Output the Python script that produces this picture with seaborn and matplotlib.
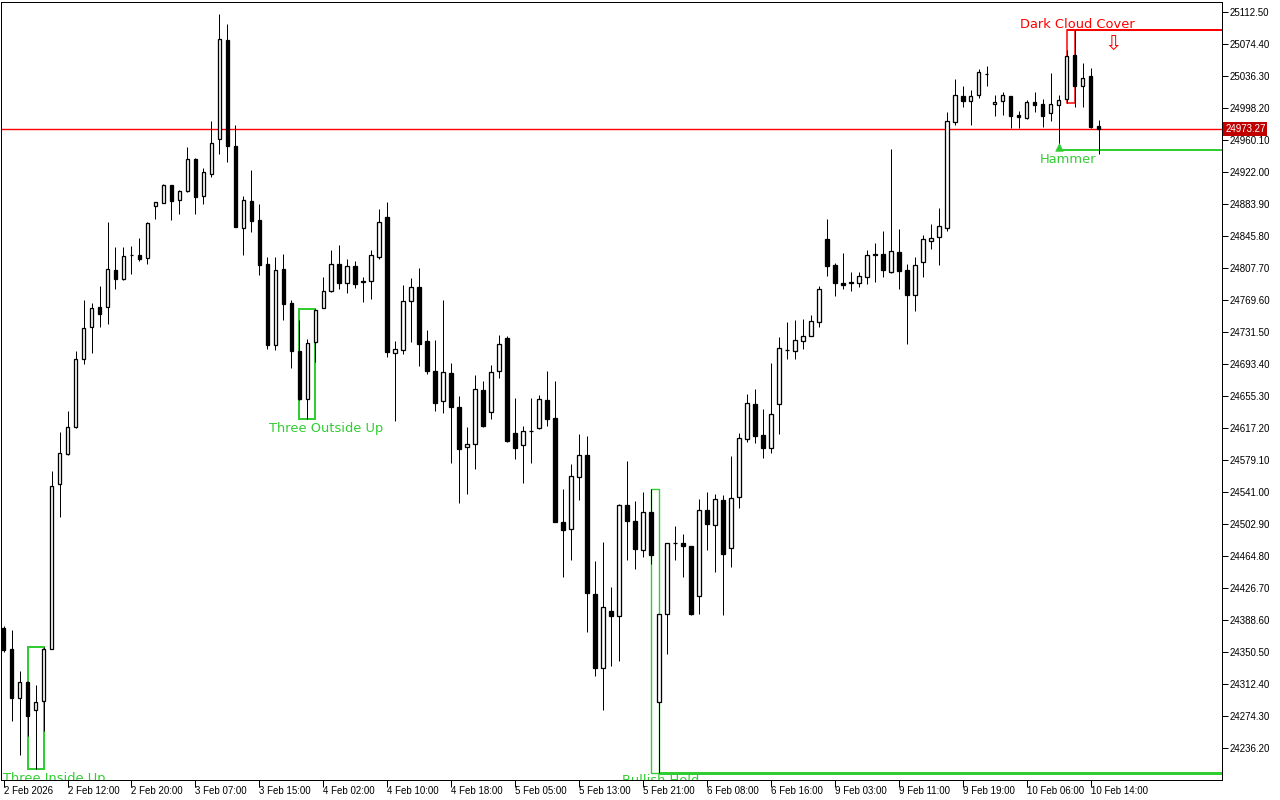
import numpy as np
import pandas as pd
import matplotlib
matplotlib.use("Agg")
import matplotlib.pyplot as plt
import matplotlib.transforms as mtransforms
from matplotlib.patches import Rectangle
import seaborn as sns

# ---------------- data (hourly candles) ----------------
opens = [24379.3, 24354.3, 24295.2, 24314.5, 24280.9, 24292.1, 24354.3, 24550.1, 24585.9, 24618.5,
         24698.8, 24737.2, 24761.0, 24761.0, 24805.8, 24794.6, 24823.0, 24822.8, 24820.0, 24881.9,
         24884.8, 24906.2, 24888.3, 24899.0, 24937.1, 24893.1, 24919.3, 24960.9, 25078.8, 24953.0,
         24855.7, 24887.1, 24864.9, 24812.5, 24716.4, 24806.5, 24766.0, 24708.9, 24651.4, 24719.3,
         24759.7, 24780.0, 24812.5, 24790.2, 24809.7, 24791.5, 24791.9, 24821.2, 24868.4, 24706.9,
         24710.4, 24768.8, 24785.1, 24720.8, 24685.1, 24649.7, 24682.7, 24641.9, 24594.2, 24597.8,
         24662.1, 24635.9, 24684.7, 24724.4, 24610.9, 24596.6, 24613.3, 24617.6, 24650.2, 24628.8,
         24505.3, 24496.6, 24558.5, 24584.7, 24419.2, 24331.8, 24399.7, 24393.7, 24525.2, 24506.1,
         24471.6, 24516.8, 24291.4, 24395.4, 24479.9, 24479.9, 24476.4, 24417.6, 24519.2, 24501.4,
         24531.5, 24474.0, 24534.7, 24603.8, 24645.4, 24608.5, 24593.1, 24645.4, 24709.8, 24708.5,
         24720.4, 24726.4, 24743.1, 24841.9, 24810.9, 24789.9, 24790.4, 24789.5, 24796.6, 24823.2,
         24824.0, 24803.3, 24826.4, 24805.0, 24775.9, 24814.5, 24840.2, 24844.3, 24855.0, 24981.2,
         25012.1, 25006.9, 25013.3, 25038.5, 25002.6, 25006.0, 25012.1, 24989.5, 24986.0, 25005.0,
         25003.0, 24991.9, 25001.8, 25008.6, 25061.3, 25024.8, 25036.0, 24976.4]
highs = [24381.5, 24376.7, 24327.9, 24316.0, 24310.9, 24357.0, 24566.2, 24611.9, 24637.5, 24709.0,
         24769.6, 24765.9, 24786.1, 24862.7, 24832.7, 24832.7, 24833.9, 24843.4, 24862.1, 24886.5,
         24907.7, 24906.8, 24900.6, 24951.8, 24938.7, 24926.8, 24982.7, 25110.1, 25098.2, 24977.6,
         24893.4, 24924.4, 24883.9, 24820.5, 24820.5, 24824.4, 24769.6, 24745.8, 24722.8, 24758.9,
         24796.6, 24829.1, 24835.1, 24818.4, 24816.4, 24796.6, 24828.8, 24878.0, 24886.3, 24720.8,
         24787.5, 24795.8, 24807.7, 24733.9, 24722.0, 24769.6, 24694.6, 24655.3, 24618.4, 24680.3,
         24673.2, 24692.2, 24727.9, 24726.8, 24652.9, 24619.3, 24652.9, 24656.5, 24685.1, 24673.2,
         24544.6, 24574.4, 24610.1, 24607.7, 24458.9, 24481.5, 24427.9, 24527.1, 24577.9, 24530.3,
         24541.0, 24544.6, 24395.9, 24480.3, 24500.5, 24491.0, 24476.8, 24532.3, 24541.0, 24538.6,
         24537.1, 24583.9, 24611.3, 24657.7, 24663.7, 24639.5, 24694.6, 24725.6, 24743.4, 24745.8,
         24747.0, 24751.8, 24785.9, 24866.1, 24813.7, 24825.6, 24803.0, 24803.0, 24829.1, 24837.5,
         24851.4, 24949.4, 24853.8, 24812.1, 24820.5, 24846.7, 24860.1, 24878.8, 24993.5, 25032.7,
         25024.1, 25019.3, 25044.6, 25048.2, 25013.3, 25016.9, 25012.5, 24994.3, 25008.1, 25016.9,
         25008.9, 25039.9, 25013.7, 25067.3, 25091.1, 25051.4, 25045.5, 24983.9]
lows = [24350.5, 24268.4, 24227.9, 24250.5, 24211.5, 24256.2, 24354.0, 24511.0, 24585.6, 24617.7,
        24693.4, 24706.9, 24737.2, 24740.5, 24782.1, 24793.3, 24800.6, 24816.4, 24812.8, 24866.4,
        24884.5, 24864.9, 24872.4, 24898.5, 24872.4, 24884.3, 24916.4, 24943.8, 24934.3, 24856.5,
        24823.2, 24850.9, 24799.7, 24711.6, 24710.1, 24746.2, 24689.0, 24650.6, 24627.6, 24695.8,
        24759.5, 24779.7, 24782.7, 24778.3, 24784.3, 24767.6, 24771.2, 24818.8, 24702.1, 24625.9,
        24705.3, 24719.6, 24691.4, 24681.9, 24637.8, 24635.4, 24575.9, 24528.3, 24539.0, 24568.8,
        24618.1, 24628.3, 24677.1, 24600.9, 24580.7, 24552.1, 24575.9, 24616.4, 24620.0, 24505.3,
        24440.2, 24460.1, 24531.9, 24374.7, 24322.3, 24281.8, 24334.2, 24340.2, 24459.5, 24449.7,
        24464.0, 24454.9, 24206.1, 24348.5, 24460.4, 24440.2, 24394.6, 24396.1, 24472.0, 24446.1,
        24394.6, 24452.1, 24522.3, 24600.9, 24599.7, 24581.9, 24587.8, 24610.4, 24699.7, 24699.7,
        24711.6, 24726.2, 24737.8, 24798.6, 24774.7, 24783.1, 24780.7, 24785.5, 24789.0, 24791.4,
        24797.0, 24802.1, 24783.1, 24717.6, 24756.9, 24797.4, 24830.7, 24811.7, 24851.4, 24978.3,
        24999.8, 24978.3, 25010.5, 25024.8, 24989.0, 24990.2, 24974.8, 24974.8, 24985.1, 24993.8,
        24976.0, 24983.1, 24948.2, 25003.8, 24999.8, 24999.8, 24974.8, 24943.1]
closes = [24353.4, 24295.2, 24314.5, 24274.1, 24290.6, 24354.3, 24547.8, 24587.2, 24618.2, 24698.8,
          24735.9, 24759.6, 24753.4, 24806.3, 24795.1, 24821.5, 24823.6, 24818.8, 24860.9, 24885.9,
          24906.2, 24887.1, 24899.0, 24937.1, 24892.6, 24921.7, 24956.2, 25080.0, 24952.6, 24856.9,
          24888.3, 24864.0, 24811.7, 24716.4, 24805.3, 24765.2, 24709.3, 24651.8, 24718.1, 24757.7,
          24780.0, 24812.5, 24790.2, 24809.7, 24789.0, 24791.9, 24822.8, 24862.1, 24708.1, 24710.9,
          24768.1, 24784.7, 24717.2, 24685.1, 24647.3, 24683.5, 24642.6, 24592.6, 24597.8, 24663.3,
          24620.0, 24683.5, 24716.9, 24602.1, 24593.1, 24613.3, 24613.9, 24651.4, 24627.6, 24505.7,
          24496.1, 24560.1, 24584.7, 24421.1, 24331.8, 24403.7, 24393.7, 24525.9, 24506.9, 24473.5,
          24516.8, 24465.7, 24395.4, 24479.9, 24480.3, 24476.4, 24395.8, 24519.2, 24502.6, 24532.7,
          24467.6, 24533.9, 24605.0, 24646.6, 24608.1, 24593.8, 24633.5, 24712.1, 24710.3, 24721.6,
          24726.4, 24744.3, 24782.4, 24810.5, 24790.2, 24787.8, 24790.9, 24797.8, 24822.8, 24823.9,
          24805.3, 24827.6, 24804.5, 24775.9, 24810.9, 24841.9, 24843.1, 24857.4, 24982.4, 25013.3,
          25006.9, 25012.1, 25040.7, 25038.9, 25005.0, 25013.1, 24989.0, 24987.1, 25005.0, 25002.1,
          24989.0, 25002.6, 25007.4, 25060.1, 25024.8, 25033.6, 24976.0, 24973.27]

x_tick_labels = ["2 Feb 2026", "2 Feb 12:00", "2 Feb 20:00", "3 Feb 07:00", "3 Feb 15:00",
                 "4 Feb 02:00", "4 Feb 10:00", "4 Feb 18:00", "5 Feb 05:00", "5 Feb 13:00",
                 "5 Feb 21:00", "6 Feb 08:00", "6 Feb 16:00", "9 Feb 03:00", "9 Feb 11:00",
                 "9 Feb 19:00", "10 Feb 06:00", "10 Feb 14:00"]
y_tick_values = [24236.20 + 38.10 * i for i in range(24)]
current_price = 24973.27

# patterns: first bar, last bar, low, high
pattern_names = ["Three Inside Up", "Three Outside Up", "Bullish Hold", "Dark Cloud Cover"]
pattern_first = [3, 37, 81, 133]
pattern_last = [5, 39, 82, 134]
pattern_low = [24211.5, 24627.6, 24206.1, 25003.8]
pattern_high = [24357.0, 24758.9, 24544.6, 25091.1]
hammer_bar = 132
hammer_level = 24948.2

df = pd.DataFrame({"i": np.arange(len(opens)), "open": opens, "high": highs,
                   "low": lows, "close": closes})

# ---------------- style ----------------
sns.set_style("white")
plt.rcParams["font.family"] = ["DejaVu Sans"]

GREEN = "#32cd32"
RED = "#ff0000"

fig = plt.figure(figsize=(12.8, 8), dpi=100)
ax = fig.add_axes([0.001, 0.025, 0.9538, 0.9725])

XMIN, XMAX = -0.29, 152.46
ax.set_xlim(XMIN, XMAX)
ax.set_ylim(24198.1, 25124.4)

px = 0.72  # one pixel in points

# wicks
ax.vlines(df["i"], df["low"], df["high"], color="black", lw=px, zorder=2)

# bodies
up = df["close"] >= df["open"]
bottoms = np.minimum(df["open"], df["close"])
heights = np.maximum(np.abs(df["close"] - df["open"]), 0.01)
ax.bar(df["i"][up], heights[up], bottom=bottoms[up], width=0.45,
       facecolor="white", edgecolor="black", linewidth=px * 1.3, zorder=3)
ax.bar(df["i"][~up], heights[~up], bottom=bottoms[~up], width=0.45,
       facecolor="black", edgecolor="black", linewidth=px * 1.3, zorder=3)

# current price line
ax.plot([XMIN, XMAX], [current_price, current_price], color=RED, lw=1.0,
        zorder=1.5, solid_capstyle="butt")

# pattern boxes
box_colors = [GREEN, GREEN, GREEN, RED]
box_lw = [2 * px, 2 * px, 1.0, 1.5 * px]
for f, l, lo, hi, c, lw in zip(pattern_first, pattern_last,
                              pattern_low, pattern_high, box_colors, box_lw):
    ax.add_patch(Rectangle((f, lo), l - f, hi - lo, fill=False, edgecolor=c,
                           lw=lw, zorder=1))

# extension lines
ax.hlines(pattern_low[2], pattern_last[2], XMAX, color=GREEN, lw=3 * px, zorder=1)
ax.hlines(pattern_high[3], pattern_first[3], XMAX, color=RED, lw=2 * px, zorder=1)
ax.hlines(hammer_level, hammer_bar, XMAX, color=GREEN, lw=2 * px, zorder=1)

# hammer marker
sns.scatterplot(x=[hammer_bar], y=[hammer_level + 4.0], marker="^", s=30,
                color=GREEN, edgecolor=GREEN, ax=ax, zorder=4, legend=False)

# labels
lab_font = dict(fontsize=9.4, family="DejaVu Sans")
ax.text(6.3, 24208.0, "Three Inside Up", color=GREEN, ha="center", va="top",
        clip_on=True, **lab_font)
ax.text(40.3, 24624.0, "Three Outside Up", color=GREEN, ha="center", va="top",
        clip_on=True, **lab_font)
ax.text(82.2, 24205.5, "Bullish Hold", color=GREEN, ha="center", va="top",
        clip_on=True, **lab_font)
ax.text(134.3, 25098.2, "Dark Cloud Cover", color=RED, ha="center", va="center",
        clip_on=True, **lab_font)
ax.text(133.2, 24936.3, "Hammer", color=GREEN, ha="center", va="center",
        clip_on=True, **lab_font)
ax.text(138.8, 25075.0, "\u21e9", color=RED, ha="center", va="center",
        fontsize=15, family="DejaVu Sans")

# axes / ticks
for s in ax.spines.values():
    s.set_visible(True)
    s.set_color("black")
    s.set_linewidth(px)

ax.yaxis.tick_right()
ax.set_yticks(y_tick_values)
ax.set_yticklabels([f"{v:.2f}" for v in y_tick_values])
ax.set_xticks(np.arange(0, 8 * len(x_tick_labels), 8))
ax.set_xticklabels(x_tick_labels)
ax.tick_params(axis="both", direction="out", length=4, width=px, color="black",
               labelsize=7, labelcolor="black", pad=1.5)
ax.tick_params(axis="x", bottom=True, pad=-1, length=5)
ax.tick_params(axis="y", right=True, left=False)
for t in ax.get_xticklabels():
    t.set_ha("left")
    t.set_family(["Liberation Sans", "DejaVu Sans"])
for t in ax.get_yticklabels():
    t.set_family(["Liberation Sans", "DejaVu Sans"])
ax.set_xlabel("")
ax.set_ylabel("")
ax.grid(False)

# current price tag on the axis
trans = mtransforms.blended_transform_factory(ax.transAxes, ax.transData)
ax.text(1.0 + 3 / 1221, current_price, f"{current_price:.2f}", transform=trans,
        ha="left", va="center", color="white", fontsize=7,
        family=["Liberation Sans", "DejaVu Sans"], clip_on=False,
        bbox=dict(boxstyle="square,pad=0.2", facecolor="#c00000", edgecolor="none"))

fig.savefig("out.png", dpi=100, facecolor="white")
